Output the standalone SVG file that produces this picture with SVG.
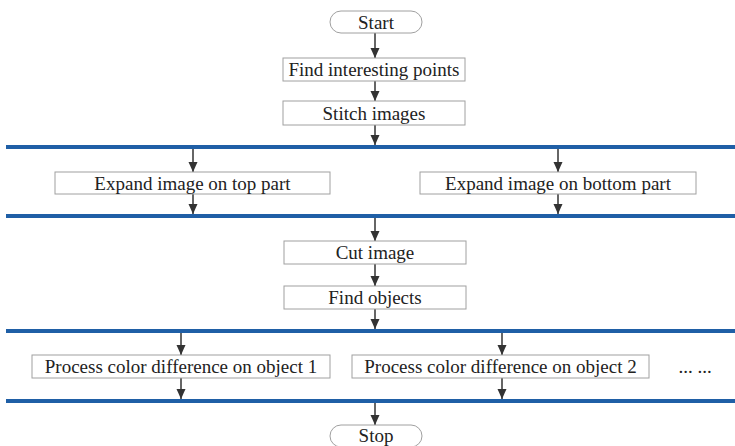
<svg xmlns="http://www.w3.org/2000/svg" width="735" height="446" viewBox="0 0 735 446">
<defs>
<marker id="ah" markerUnits="userSpaceOnUse" markerWidth="10" markerHeight="10" refX="10" refY="4.5" orient="auto">
<path d="M0,0 L10,4.5 L0,9 z" fill="#333"/>
</marker>
</defs>
<style>
.box{fill:#fff;stroke:#a0a0a0;stroke-width:1}
.t{font-size:19px;fill:#222;text-anchor:middle}
.bar{stroke:#1f5fa6;stroke-width:4}
.c{stroke:#333;stroke-width:1.5;fill:none;marker-end:url(#ah)}
</style>
<rect width="735" height="446" fill="#fff"/>
<g id="bars">
<line class="bar" x1="6" y1="147" x2="735" y2="147"/>
<line class="bar" x1="6" y1="216" x2="735" y2="216"/>
<line class="bar" x1="6" y1="331" x2="735" y2="331"/>
<line class="bar" x1="6" y1="401" x2="735" y2="401"/>
</g>
<g id="connectors">
<line class="c" x1="375" y1="33" x2="375" y2="58"/>
<line class="c" x1="375" y1="81" x2="375" y2="101"/>
<line class="c" x1="375" y1="125" x2="375" y2="145"/>
<line class="c" x1="193" y1="149" x2="193" y2="172"/>
<line class="c" x1="558" y1="149" x2="558" y2="172"/>
<line class="c" x1="193" y1="194" x2="193" y2="214"/>
<line class="c" x1="558" y1="194" x2="558" y2="214"/>
<line class="c" x1="375" y1="218" x2="375" y2="241"/>
<line class="c" x1="375" y1="264" x2="375" y2="286"/>
<line class="c" x1="375" y1="309" x2="375" y2="329"/>
<line class="c" x1="181" y1="333" x2="181" y2="355"/>
<line class="c" x1="502" y1="333" x2="502" y2="355"/>
<line class="c" x1="181" y1="378" x2="181" y2="399"/>
<line class="c" x1="502" y1="378" x2="502" y2="399"/>
<line class="c" x1="375" y1="403" x2="375" y2="425"/>
</g>
<g font-family="'Liberation Serif', 'DejaVu Serif', serif">
<g id="start">
<rect class="box" x="330" y="11" width="92" height="22" rx="11"/>
<text class="t" x="376" y="28.5">Start</text>
</g>
<g id="find-points">
<rect class="box" x="283" y="58" width="182" height="23"/>
<text class="t" x="374" y="76">Find interesting points</text>
</g>
<g id="stitch">
<rect class="box" x="283" y="101" width="182" height="24"/>
<text class="t" x="374" y="119.5">Stitch images</text>
</g>
<g id="expand-top">
<rect class="box" x="55" y="172" width="275" height="22"/>
<text class="t" x="192.5" y="189.5">Expand image on top part</text>
</g>
<g id="expand-bottom">
<rect class="box" x="420" y="172" width="276" height="22"/>
<text class="t" x="558" y="189.5">Expand image on bottom part</text>
</g>
<g id="cut">
<rect class="box" x="284" y="241" width="182" height="23"/>
<text class="t" x="375" y="259">Cut image</text>
</g>
<g id="find-objects">
<rect class="box" x="284" y="286" width="182" height="23"/>
<text class="t" x="375" y="304">Find objects</text>
</g>
<g id="process-1">
<rect class="box" x="32" y="355" width="298" height="23"/>
<text class="t" x="181" y="373">Process color difference on object 1</text>
</g>
<g id="process-2">
<rect class="box" x="352" y="355" width="297" height="23"/>
<text class="t" x="500.5" y="373">Process color difference on object 2</text>
</g>
<g id="ellipsis">
<text class="t" x="695" y="373">... ...</text>
</g>
<g id="stop">
<rect class="box" x="330" y="425" width="92" height="22" rx="11"/>
<text class="t" x="376" y="442">Stop</text>
</g>
</g>
</svg>
